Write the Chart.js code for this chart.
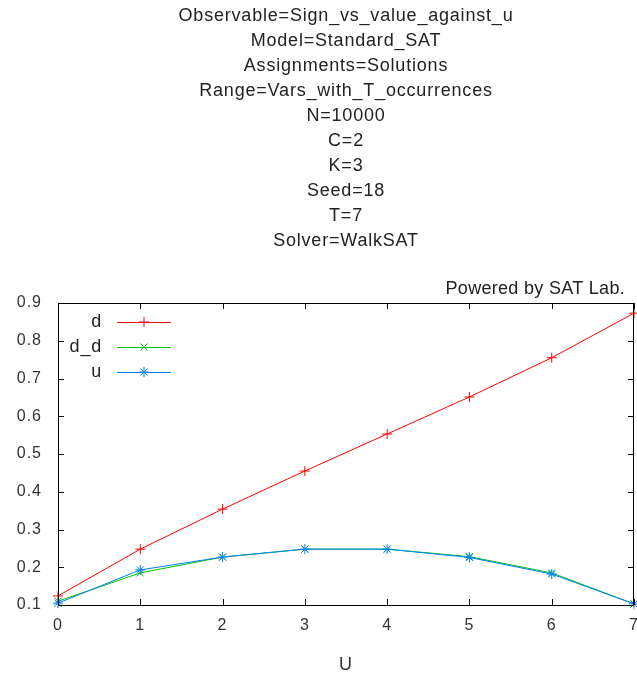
<!DOCTYPE html>
<html>
  <head>
    <title>Sign vs value against u</title>
    <script src="https://cdn.jsdelivr.net/npm/chart.js"></script>
    <style>
      body {
        margin: 0;
        background: #ffffff;
      }
    </style>
  </head>
  <body>
    <canvas id="myChart" width="637" height="679"></canvas>

    <script>
      const titleLines = [
        "Observable=Sign_vs_value_against_u",
        "Model=Standard_SAT",
        "Assignments=Solutions",
        "Range=Vars_with_T_occurrences",
        "N=10000",
        "C=2",
        "K=3",
        "Seed=18",
        "T=7",
        "Solver=WalkSAT",
      ];
      const uValues = [0, 1, 2, 3, 4, 5, 6, 7];
      const dValues = [0.124, 0.248, 0.354, 0.455, 0.553, 0.651, 0.755, 0.873];
      const ddValues = [0.11, 0.185, 0.227, 0.248, 0.248, 0.228, 0.185, 0.103];
      const uSeries = [0.105, 0.193, 0.227, 0.248, 0.248, 0.226, 0.182, 0.103];

      const FONT = "'Liberation Sans', Arial, sans-serif";

      function toPoints(ys) {
        return uValues.map((x, i) => ({ x: x, y: ys[i] }));
      }

      const series = [
        { label: "d", data: dValues, color: "#ff0000", style: "cross", order: 2 },
        { label: "d_d", data: ddValues, color: "#00c000", style: "crossRot", order: 1 },
        { label: "u", data: uSeries, color: "#0080ff", style: "star", order: 0 },
      ];

      // gnuplot-like frame, inward ticks, title, legend
      const gnuplotLook = {
        id: "gnuplotLook",
        beforeDraw(chart) {
          // gnuplot's png font is set rather loose
          chart.ctx.letterSpacing = "1px";
        },
        afterDraw(chart) {
          const ctx = chart.ctx;
          const a = chart.chartArea;
          const xs = chart.scales.x;
          const ys = chart.scales.y;
          ctx.save();
          ctx.strokeStyle = "#000000";
          ctx.lineWidth = 1;
          ctx.strokeRect(a.left + 0.5, a.top + 0.5, a.right - a.left - 1, a.bottom - a.top);

          ctx.beginPath();
          xs.ticks.forEach((t) => {
            const px = Math.round(xs.getPixelForValue(t.value)) + 0.5;
            ctx.moveTo(px, a.bottom);
            ctx.lineTo(px, a.bottom - 6);
            ctx.moveTo(px, a.top);
            ctx.lineTo(px, a.top + 6);
          });
          ys.ticks.forEach((t) => {
            const py = Math.round(ys.getPixelForValue(t.value)) + 0.5;
            ctx.moveTo(a.left, py);
            ctx.lineTo(a.left + 6, py);
            ctx.moveTo(a.right, py);
            ctx.lineTo(a.right - 6, py);
          });
          ctx.stroke();

          // title
          const cx = (a.left + a.right) / 2;
          ctx.fillStyle = "#222222";
          ctx.font = "18px " + FONT;
          ctx.letterSpacing = "0.8px";
          ctx.textAlign = "center";
          ctx.textBaseline = "middle";
          titleLines.forEach((line, i) => {
            ctx.fillText(line, cx, 16 + i * 25);
          });

          ctx.textAlign = "right";
          ctx.letterSpacing = "0.3px";
          ctx.fillText("Powered by SAT Lab.", 625, 289);

          // legend
          ctx.letterSpacing = "0.8px";
          series.forEach((s, i) => {
            const y = 322 + i * 25;
            ctx.fillStyle = "#222222";
            ctx.textAlign = "right";
            ctx.fillText(s.label, 102, y);
            ctx.strokeStyle = s.color;
            ctx.lineWidth = 1;
            ctx.beginPath();
            ctx.moveTo(117, y + 0.5);
            ctx.lineTo(171, y + 0.5);
            ctx.stroke();
            Chart.helpers.drawPoint(ctx, { pointStyle: s.style, radius: 5, borderWidth: 1 }, 144, y);
          });
          ctx.restore();
        },
      };

      const ctx = document.getElementById("myChart").getContext("2d");
      new Chart(ctx, {
        type: "line",
        data: {
          datasets: series.map((s) => ({
            label: s.label,
            data: toPoints(s.data),
            borderColor: s.color,
            backgroundColor: s.color,
            borderWidth: 1,
            pointStyle: s.style,
            pointRadius: 5,
            pointBorderWidth: 1,
            pointBorderColor: s.color,
            fill: false,
            tension: 0,
            clip: false,
            order: s.order,
          })),
        },
        plugins: [gnuplotLook],
        options: {
          responsive: false,
          animation: false,
          maintainAspectRatio: false,
          devicePixelRatio: 1,
          layout: {
            autoPadding: false,
            padding: { top: 303, left: 0, right: 3, bottom: 0 },
          },
          plugins: {
            legend: { display: false },
            title: { display: false },
            tooltip: { enabled: false },
          },
          scales: {
            x: {
              type: "linear",
              min: 0,
              max: 7,
              grid: { display: false, drawTicks: false },
              border: { display: false },
              ticks: {
                stepSize: 1,
                padding: 11,
                color: "#333333",
                font: { family: FONT, size: 16 },
              },
              title: {
                display: true,
                text: "U",
                color: "#333333",
                font: { family: FONT, size: 18 },
                padding: { top: 0, bottom: 3 },
              },
              afterFit(scale) {
                scale.height = 74;
                scale.paddingLeft = 0;
                scale.paddingRight = 0;
              },
            },
            y: {
              min: 0.1,
              max: 0.9,
              grid: { display: false, drawTicks: false },
              border: { display: false },
              ticks: {
                stepSize: 0.1,
                padding: 16,
                color: "#333333",
                font: { family: FONT, size: 16 },
                callback: (v) => v.toFixed(1),
              },
              afterFit(scale) {
                scale.width = 58;
                scale.paddingTop = 0;
                scale.paddingBottom = 0;
              },
            },
          },
        },
      });
    </script>
  </body>
</html>
